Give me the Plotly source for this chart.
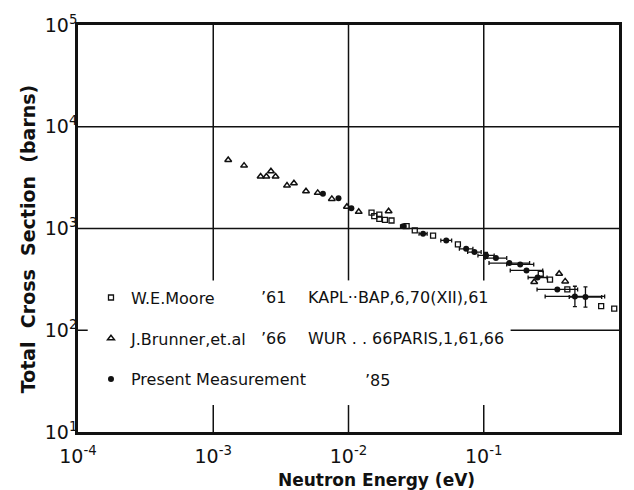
import numpy as np
import plotly.graph_objects as go

# ---- data -------------------------------------------------------------
# W.E.Moore ('61)
moore_e = [0.0148, 0.0155, 0.0169, 0.0169, 0.0186, 0.0208, 0.0269, 0.0309,
           0.0422, 0.0644, 0.264, 0.309, 0.415, 0.738, 0.922]
moore_xs = [1435, 1321, 1371, 1245, 1217, 1198, 1054, 960,
            850, 697, 359, 314, 252, 173, 163]

# J.Brunner et al. ('66)
brunner_e = [0.00129, 0.00169, 0.00224, 0.00247, 0.00267, 0.00289, 0.00351,
             0.00395, 0.00485, 0.00592, 0.00753, 0.00973, 0.0119, 0.0198,
             0.236, 0.361, 0.400]
brunner_xs = [4720, 4150, 3240, 3240, 3650, 3240, 2640,
              2780, 2320, 2240, 1955, 1633, 1458, 1479,
              298, 359, 302]

# Present measurement ('85): energy, cross section, energy resolution and
# cross-section uncertainty (both as half-widths in decades)
present_e = [0.00647, 0.00843, 0.0105, 0.0254, 0.0356, 0.0528, 0.0741, 0.0853,
             0.104, 0.123, 0.1545, 0.186, 0.207, 0.25, 0.350, 0.472, 0.565]
present_xs = [2190, 1980, 1580, 1054, 888, 763, 632, 586,
              544, 512, 457, 444, 387, 330, 252, 215, 212]
present_de = [0.0, 0.0, 0.0, 0.02, 0.03, 0.04, 0.05, 0.05,
              0.06, 0.08, 0.15, 0.10, 0.12, 0.07, 0.15, 0.22, 0.12]
present_dxs = [0.0, 0.0, 0.0, 0.0, 0.0, 0.0, 0.0, 0.0,
               0.03, 0.0, 0.0, 0.0, 0.0, 0.0, 0.0, 0.10, 0.10]

legend_names = ["W.E.Moore", "J.Brunner,et.al", "Present Measurement"]
legend_years = ["\u201961", "\u201966", "\u201985"]
legend_refs = ["KAPL\u00b7\u00b7BAP,6,70(XII),61", "WUR . . 66PARIS,1,61,66", ""]

x_decades = [-4, -3, -2, -1, 0]
y_decades = [1, 2, 3, 4, 5]

# ---- figure -----------------------------------------------------------
FONT = "DejaVu Sans"
INK = "#111111"

pe = np.array(present_e)
px_ = np.array(present_xs)
de = np.array(present_de)
ds = np.array(present_dxs)

fig = go.Figure()

fig.add_trace(go.Scatter(
    x=moore_e, y=moore_xs, mode="markers", name=legend_names[0],
    legendgroup="a",
    marker=dict(symbol="square-open", size=5, color=INK, line=dict(width=1.3)),
))
fig.add_trace(go.Scatter(
    x=brunner_e, y=brunner_xs, mode="markers", name=legend_names[1],
    legendgroup="b",
    marker=dict(symbol="triangle-up-open", size=6, color=INK, line=dict(width=1.5)),
))
fig.add_trace(go.Scatter(
    x=present_e, y=present_xs, mode="markers", name=legend_names[2],
    legendgroup="c",
    marker=dict(symbol="circle", size=6, color=INK),
    error_x=dict(type="data", symmetric=False,
                 array=pe * (10 ** de - 1), arrayminus=pe * (1 - 10 ** -de),
                 color=INK, thickness=1.3, width=2),
    error_y=dict(type="data", symmetric=False,
                 array=px_ * (10 ** ds - 1), arrayminus=px_ * (1 - 10 ** -ds),
                 color=INK, thickness=1.3, width=2),
))

# grid lines, interrupted where the key sits
grid = dict(color=INK, width=1.5)
for yv in [1e4, 1e3]:
    fig.add_shape(type="line", x0=1e-4, x1=1, y0=yv, y1=yv, line=grid, layer="below")
fig.add_shape(type="line", x0=1e-4, x1=1.18e-4, y0=100, y1=100, line=grid, layer="below")
fig.add_shape(type="line", x0=0.158, x1=1, y0=100, y1=100, line=grid, layer="below")
for xv in [1e-3, 1e-2, 1e-1]:
    fig.add_shape(type="line", x0=xv, x1=xv, y0=309, y1=1e5, line=grid, layer="below")
    fig.add_shape(type="line", x0=xv, x1=xv, y0=10, y1=18.4, line=grid, layer="below")

# key columns: year and reference
row_y = [0.331, 0.2304, 0.1275]
for i in range(3):
    fig.add_annotation(xref="paper", yref="paper", x=0.334 if i < 2 else 0.527,
                       y=row_y[i], text=legend_years[i], showarrow=False,
                       xanchor="left", yanchor="middle",
                       font=dict(family=FONT, size=16, color=INK))
    if legend_refs[i]:
        fig.add_annotation(xref="paper", yref="paper", x=0.421, y=row_y[i],
                           text=legend_refs[i], showarrow=False,
                           xanchor="left", yanchor="middle",
                           font=dict(family=FONT, size=16, color=INK))

# axis titles
fig.add_annotation(xref="paper", yref="paper", x=0.551, y=-0.118,
                   text="Neutron Energy (eV)", showarrow=False,
                   xanchor="center", yanchor="middle",
                   font=dict(family=FONT, size=17, color=INK, weight="bold"))
fig.add_annotation(xref="paper", yref="paper", x=-0.092, y=0.474,
                   text="Total\u00a0 Cross\u00a0 Section\u00a0 (barns)", showarrow=False,
                   textangle=-90, xanchor="center", yanchor="middle",
                   font=dict(family=FONT, size=19, color=INK, weight="bold"))

# decade ticks (labelled) and 2..9 subdivisions (unlabelled, on overlay axes)
x_minor = [m * 10.0 ** d for d in x_decades[:-1] for m in range(2, 10)]
y_minor = [m * 10.0 ** d for d in y_decades[:-1] for m in range(2, 10)]

axis_common = dict(
    type="log", showgrid=False, zeroline=False,
    showline=True, linecolor=INK, linewidth=2.5, mirror="allticks",
    ticks="inside", ticklen=7, tickwidth=1.4, tickcolor=INK,
    tickfont=dict(family=FONT, size=19, color=INK),
)
minor_common = dict(
    type="log", showgrid=False, zeroline=False, showline=False,
    mirror="allticks", ticks="inside", ticklen=5, tickwidth=1.2,
    tickcolor=INK, showticklabels=False,
)

fig.update_layout(
    width=634, height=490,
    margin=dict(l=78, r=12, t=24, b=58),
    paper_bgcolor="white", plot_bgcolor="white",
    font=dict(family=FONT, color=INK),
    showlegend=True,
    legend=dict(x=0.024, y=0.372, xanchor="left", yanchor="top",
                bgcolor="rgba(0,0,0,0)", tracegroupgap=17,
                font=dict(family=FONT, size=16, color=INK)),
    xaxis=dict(axis_common, range=[-4, 0],
               tickvals=[10.0 ** d for d in x_decades],
               ticktext=[f"10<sup>{d}</sup>" for d in x_decades],
               ticklabelstandoff=5),
    yaxis=dict(axis_common, range=[1, 5],
               tickvals=[10.0 ** d for d in y_decades],
               ticktext=[f"10<sup>{d}</sup>" for d in y_decades],
               ticklabelstandoff=-6),
    xaxis2=dict(minor_common, range=[-4, 0], overlaying="x", anchor="y",
                side="bottom", tickvals=x_minor),
    yaxis2=dict(minor_common, range=[1, 5], overlaying="y", anchor="x",
                side="left", tickvals=y_minor),
)

fig.write_html("out.html")
